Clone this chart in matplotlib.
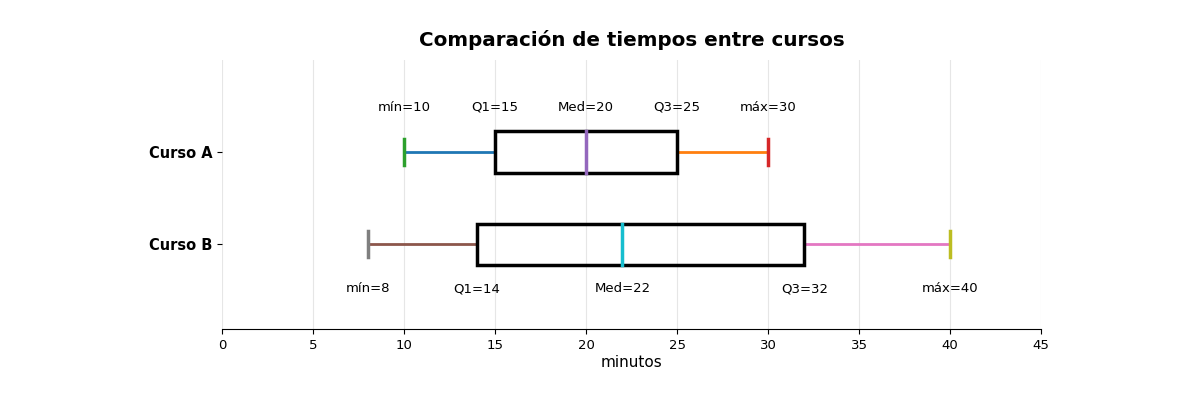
import numpy as np
import matplotlib
matplotlib.use('Agg')
import matplotlib.pyplot as plt

# five-number summaries
cursos = ['Curso A', 'Curso B']
minimos = [10, 8]
q1s = [15, 14]
medianas = [20, 22]
q3s = [25, 32]
maximos = [30, 40]

pos = [2, 1]   # Curso A on top
h = 0.45       # box height
cap = 0.14

fig, ax = plt.subplots(figsize=(12, 4), dpi=100)
fig.subplots_adjust(left=0.185, right=0.8675, bottom=0.177, top=0.85)

for i, y in enumerate(pos):
    # whiskers, caps and median follow the default color cycle
    ax.plot([minimos[i], q1s[i]], [y, y], lw=2)
    ax.plot([q3s[i], maximos[i]], [y, y], lw=2)
    ax.plot([minimos[i], minimos[i]], [y - cap, y + cap], lw=2.5)
    ax.plot([maximos[i], maximos[i]], [y - cap, y + cap], lw=2.5)
    box = plt.Rectangle((q1s[i], y - h / 2), q3s[i] - q1s[i], h,
                        fill=False, ec='black', lw=2.5, zorder=3)
    ax.add_patch(box)
    ax.plot([medianas[i], medianas[i]], [y - h / 2, y + h / 2], lw=2.5, zorder=4)

    # annotations: above for A, below for B
    ty = y + 0.48 if i == 0 else y - 0.48
    etiquetas = ['mín=%d' % minimos[i], 'Q1=%d' % q1s[i], 'Med=%d' % medianas[i],
                 'Q3=%d' % q3s[i], 'máx=%d' % maximos[i]]
    valores = [minimos[i], q1s[i], medianas[i], q3s[i], maximos[i]]
    for v, t in zip(valores, etiquetas):
        ax.text(v, ty, t, ha='center', va='center', fontsize=9.5)

ax.set_xlim(0, 45)
ax.set_ylim(0.086, 2.99)
ax.set_xticks(np.arange(0, 46, 5))
ax.set_yticks(pos)
ax.set_yticklabels(cursos, fontsize=10.5, fontweight='bold')
ax.tick_params(axis='x', labelsize=9.5)
ax.set_xlabel('minutos', fontsize=11, labelpad=2)
ax.set_title('Comparación de tiempos entre cursos', fontsize=14.3, fontweight='bold', pad=10)
ax.grid(axis='x', color='#e6e6e6', lw=0.8)
ax.set_axisbelow(True)
for s in ['top', 'right', 'left']:
    ax.spines[s].set_visible(False)

plt.savefig('out.png')
